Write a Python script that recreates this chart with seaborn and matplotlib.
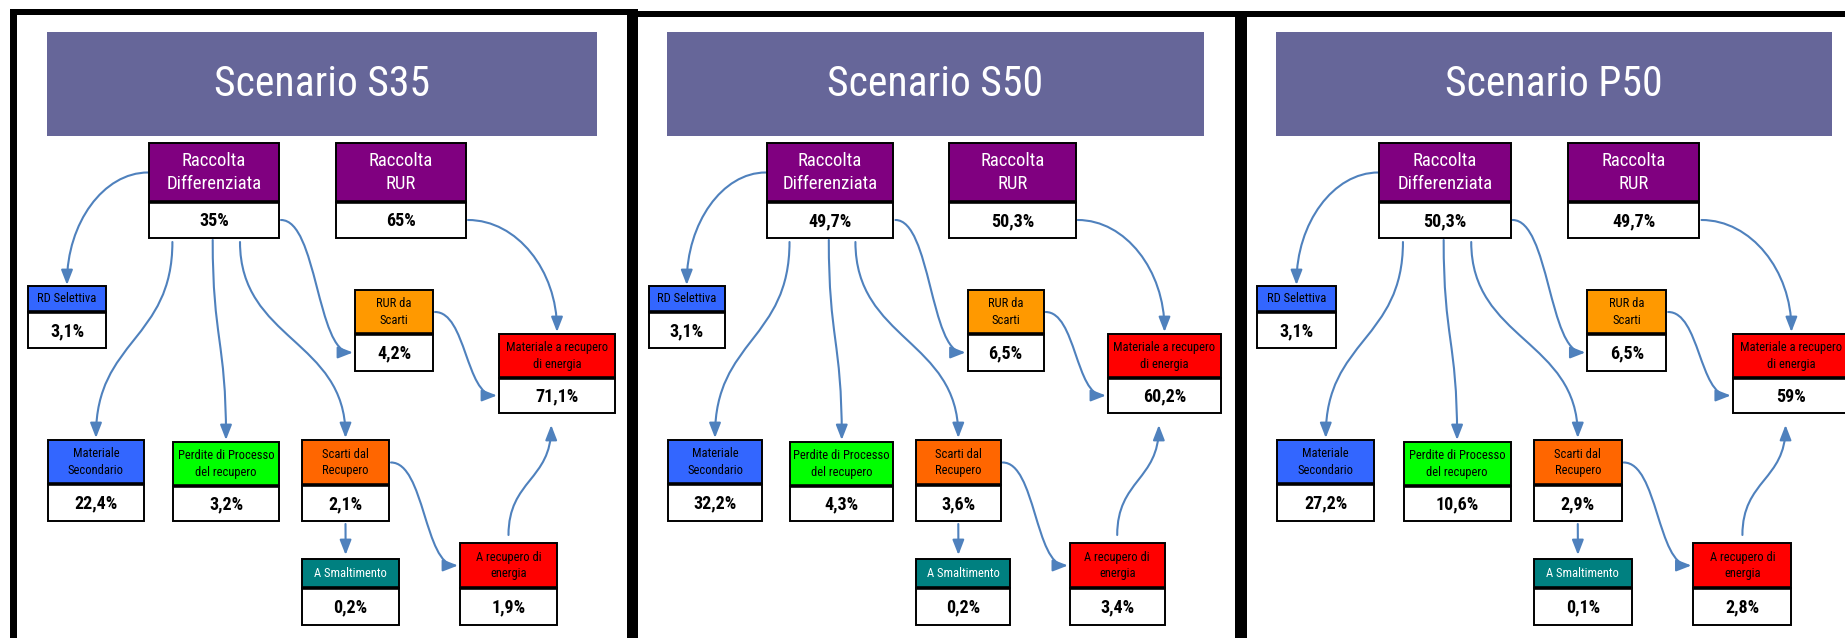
import matplotlib
matplotlib.use("Agg")
import matplotlib.pyplot as plt
from matplotlib.patches import Rectangle, FancyArrowPatch
from matplotlib.path import Path
from matplotlib import font_manager
import seaborn as sns

# values per scenario
scenarios = ["Scenario S35", "Scenario S50", "Scenario P50"]
rd_values = ["35%", "49,7%", "50,3%"]
rur_values = ["65%", "50,3%", "49,7%"]
selettiva = ["3,1%", "3,1%", "3,1%"]
rur_scarti = ["4,2%", "6,5%", "6,5%"]
mat_energia = ["71,1%", "60,2%", "59%"]
mat_secondario = ["22,4%", "32,2%", "27,2%"]
perdite = ["3,2%", "4,3%", "10,6%"]
scarti_recupero = ["2,1%", "3,6%", "2,9%"]
smaltimento = ["0,2%", "0,2%", "0,1%"]
rec_energia = ["1,9%", "3,4%", "2,8%"]

node_values = {
    "rd": rd_values, "rur": rur_values, "sel": selettiva, "rurs": rur_scarti,
    "mre": mat_energia, "ms": mat_secondario, "perd": perdite,
    "scr": scarti_recupero, "sm": smaltimento, "are": rec_energia,
}
node_labels = {
    "rd": "Raccolta\nDifferenziata", "rur": "Raccolta\nRUR",
    "sel": "RD Selettiva", "rurs": "RUR da\nScarti",
    "mre": "Materiale a recupero\ndi energia", "ms": "Materiale\nSecondario",
    "perd": "Perdite di Processo\ndel recupero", "scr": "Scarti dal\nRecupero",
    "sm": "A Smaltimento", "are": "A recupero di\nenergia",
}

# styling
node_colors = {
    "rd": "#800080", "rur": "#800080", "sel": "#3366FF", "rurs": "#FF9900",
    "mre": "#FF0000", "ms": "#3366FF", "perd": "#00FF00", "scr": "#FF6600",
    "sm": "#008080", "are": "#FF0000",
}
label_colors = {"rd": "white", "rur": "white", "sm": "white"}
title_color = "#666699"
arrow_color = "#4F81BD"

# layout inside one panel: x_left, x_right, y_top, y_split, y_bottom
layout = {
    "rd": (132, 262, 143, 202, 238),
    "rur": (319, 449, 143, 202, 238),
    "sel": (11, 89, 286, 312, 348),
    "rurs": (338, 416, 290, 334, 371),
    "mre": (482, 598, 334, 378, 413),
    "ms": (31, 127, 440, 484, 521),
    "perd": (156, 262, 442, 486, 521),
    "scr": (285, 372, 440, 485, 521),
    "sm": (285, 382, 559, 588, 625),
    "are": (443, 540, 543, 588, 625),
}
title_box = (30, 580, 32, 136)
panel_x0 = [17, 638, 1246]
panel_sx = [1.0, 0.975, 1.01]

names = {f.name for f in font_manager.fontManager.ttflist}
family = "DejaVu Sans"
for cand in ["Liberation Sans Narrow", "Roboto Condensed", "Open Sans Condensed"]:
    if cand in names:
        family = cand
        break
narrow = family != "DejaVu Sans"
k = 1.0 if narrow else 0.8

sns.set_theme(style="white")
plt.rcParams["font.family"] = [family, "DejaVu Sans"]

fig = plt.figure(figsize=(18.45, 6.38), dpi=100)
ax = fig.add_axes([0, 0, 1, 1])
ax.set_xlim(0, 1845)
ax.set_ylim(638, 0)
ax.axis("off")

# black frames
for x0, x1, y0, y1 in [(10, 633, 9, 15), (10, 17, 9, 638), (627, 638, 9, 638),
                       (633, 1247, 11, 17), (1235, 1247, 11, 638), (1247, 1845, 11, 17)]:
    ax.add_patch(Rectangle((x0, y0), x1 - x0, y1 - y0, color="black", lw=0, zorder=5))


def curve(p0, p3, kind):
    (x0, y0), (x3, y3) = p0, p3
    if kind == "vs":
        c1, c2 = (x0, (y0 + y3) / 2), (x3, (y0 + y3) / 2)
    elif kind == "hs":
        c1, c2 = ((x0 + x3) / 2, y0), ((x0 + x3) / 2, y3)
    elif kind == "hv":
        c1, c2 = (x0 + 0.55 * (x3 - x0), y0), (x3, y0 + 0.45 * (y3 - y0))
    else:
        c1 = (x0 + (x3 - x0) / 3, y0 + (y3 - y0) / 3)
        c2 = (x0 + 2 * (x3 - x0) / 3, y0 + 2 * (y3 - y0) / 3)
    return Path([p0, c1, c2, p3], [Path.MOVETO, Path.CURVE4, Path.CURVE4, Path.CURVE4])


for i, title in enumerate(scenarios):
    ox, sx = panel_x0[i], panel_sx[i]
    X = lambda v: ox + v * sx
    boxes = {key: (X(a), X(b), t, s, bt) for key, (a, b, t, s, bt) in layout.items()}

    tx0, tx1, ty0, ty1 = title_box
    ax.add_patch(Rectangle((X(tx0), ty0), (tx1 - tx0) * sx, ty1 - ty0,
                           color=title_color, lw=0, zorder=2))
    ax.text((X(tx0) + X(tx1)) / 2, (ty0 + ty1) / 2 + 1, title, color="white",
            fontsize=30 * k, ha="center", va="center", zorder=3)

    for key, (x0, x1, y0, ys, y1) in boxes.items():
        ax.add_patch(Rectangle((x0, y0), x1 - x0, ys - y0, facecolor=node_colors[key],
                               edgecolor="black", lw=1.4, zorder=3))
        ax.add_patch(Rectangle((x0, ys), x1 - x0, y1 - ys, facecolor="white",
                               edgecolor="black", lw=1.4, zorder=3))
        ax.plot([x0, x1], [ys, ys], color="black", lw=2.6, zorder=4,
                solid_capstyle="butt")
        big = key in ("rd", "rur")
        ax.text((x0 + x1) / 2, (y0 + ys) / 2, node_labels[key],
                color=label_colors.get(key, "black"), fontsize=(13.5 if big else 9) * k,
                ha="center", va="center", linespacing=1.35, zorder=4)
        ax.text((x0 + x1) / 2, (ys + y1) / 2 + 1, node_values[key][i],
                color="black", fontsize=13 * k, fontweight="bold",
                ha="center", va="center", zorder=4)

    def at(key, side, frac=0.5, part="top", gap=3):
        x0, x1, y0, ys, y1 = boxes[key]
        ymid = (y0 + ys) / 2 if part == "top" else (ys + y1) / 2
        if side == "left":
            return (x0 - gap, ymid)
        if side == "right":
            return (x1 + gap, ymid)
        if side == "up":
            return (x0 + frac * (x1 - x0), y0 - gap)
        return (x0 + frac * (x1 - x0), y1 + gap)

    links = [
        (at("rd", "left", gap=1), at("sel", "up", gap=1), "hv"),
        (at("rd", "down", 0.18, gap=4), at("ms", "up", gap=2), "vs"),
        (at("rd", "down", 0.49, gap=2), at("perd", "up", gap=2), "vs"),
        (at("rd", "down", 0.70, gap=4), at("scr", "up", gap=2), "vs"),
        (at("rd", "right", part="bottom", gap=2), at("rurs", "left", part="bottom", gap=2), "hs"),
        (at("rur", "right", part="bottom", gap=2), at("mre", "up", gap=2), "hv"),
        (at("rurs", "right", gap=2), at("mre", "left", part="bottom", gap=2), "hs"),
        (at("scr", "down", gap=3), at("sm", "up", 0.45, gap=4), "line"),
        (at("scr", "right", gap=2), at("are", "left", gap=2), "hs"),
        (at("are", "up", 0.5, gap=8), at("mre", "down", 0.45, gap=12), "vs"),
    ]
    for p0, p3, kind in links:
        ax.add_patch(FancyArrowPatch(path=curve(p0, p3, kind),
                                     arrowstyle="-|>,head_length=0.9,head_width=0.35",
                                     mutation_scale=10, color=arrow_color, lw=1.5,
                                     zorder=2.5))

fig.savefig("out.png", dpi=100)
